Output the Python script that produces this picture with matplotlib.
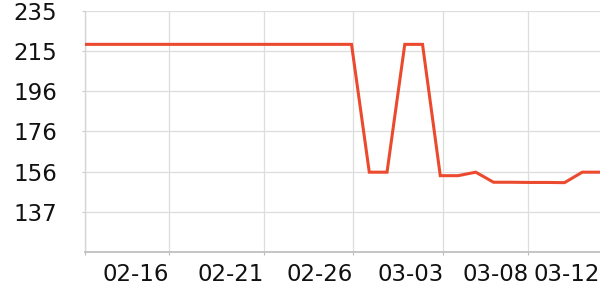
import matplotlib
matplotlib.use("Agg")
import matplotlib.pyplot as plt
import numpy as np

# daily values, 02-11 .. 03-12
dates = ["02-11", "02-12", "02-13", "02-14", "02-15", "02-16", "02-17", "02-18", "02-19", "02-20",
         "02-21", "02-22", "02-23", "02-24", "02-25", "02-26", "02-27", "02-28", "03-01", "03-02",
         "03-03", "03-04", "03-05", "03-06", "03-07", "03-08", "03-09", "03-10", "03-11", "03-12"]
values = [218.8, 218.8, 218.8, 218.8, 218.8, 218.8, 218.8, 218.8, 218.8, 218.8,
          218.8, 218.8, 218.8, 218.8, 218.8, 218.8, 156.5, 156.5, 218.8, 218.8,
          154.8, 154.8, 156.5, 151.6, 151.6, 151.5, 151.5, 151.4, 156.5, 156.5]

label_dates = ["02-16", "02-21", "02-26", "03-03", "03-08", "03-12"]
y_ticks = [137.2, 156.8, 176.4, 196.0, 215.6, 235.2]

line_color = "#ec4a2e"
grid_color = "#dddddd"

fig = plt.figure(figsize=(6, 3), dpi=100)
ax = fig.add_axes([0.1422, 0.16, 0.8578, 0.8043])

x = np.arange(len(values))
ax.plot(x, values, color=line_color, linewidth=2.2, solid_joinstyle="miter", zorder=3)

ax.set_xlim(0, len(values) - 1)
ax.set_ylim(117.6, 235.2)

# tick positions (slightly irregular in the original)
tick_pos = [4.73, 10.08, 15.10, 20.17, 24.96]
ax.set_xticks([0] + tick_pos)
ax.set_xticklabels([""] * (len(tick_pos) + 1))
for p, lab in zip(tick_pos + [len(values) - 1], label_dates):
    ax.text(p, -0.045, lab, transform=ax.get_xaxis_transform(), ha="right", va="top",
            fontsize=16.5, color="#111111")

ax.set_yticks(y_ticks)
ax.set_yticklabels([str(int(np.floor(v))) for v in y_ticks], fontsize=16.5, color="#111111")
ax.tick_params(axis="y", length=2.5, pad=18, color="#cccccc")
ax.tick_params(axis="x", length=2.5, color="#bbbbbb")

ax.grid(True, color=grid_color, linewidth=0.9, zorder=0)
ax.set_axisbelow(True)

for s in ["top", "right"]:
    ax.spines[s].set_visible(False)
ax.spines["left"].set_color("#d5d5d5")
ax.spines["bottom"].set_color("#bbbbbb")
ax.spines["left"].set_linewidth(1.0)
ax.spines["bottom"].set_linewidth(1.2)

plt.savefig("out.png", dpi=100)
